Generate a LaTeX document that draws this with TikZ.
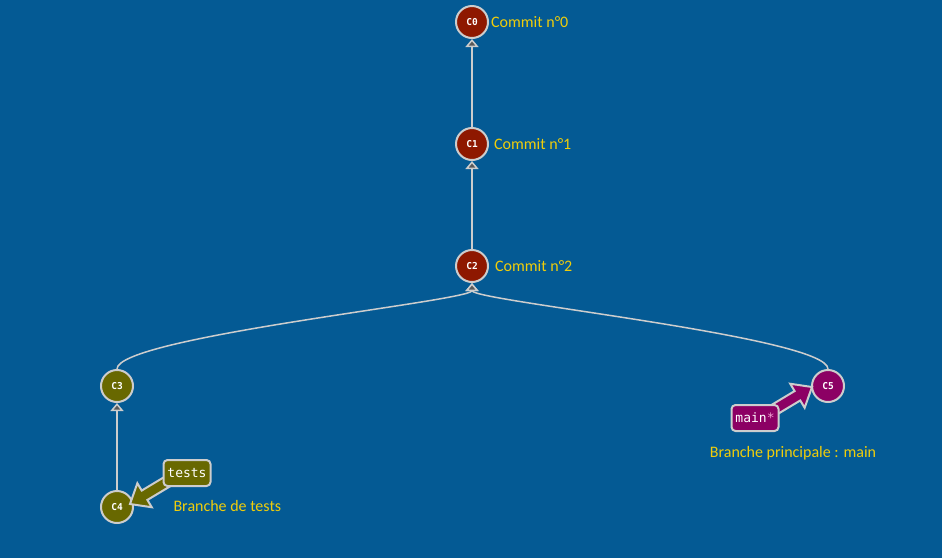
\documentclass[tikz,border=0pt]{standalone}
\usepackage{fontspec}
\setmainfont{Carlito}
\setmonofont{DejaVu Sans Mono}
\usetikzlibrary{arrows.meta}

\definecolor{gitbg}{RGB}{4,90,148}
\definecolor{edgegray}{RGB}{205,205,205}
\definecolor{labelyellow}{RGB}{240,205,10}
\definecolor{mainred}{RGB}{142,24,0}
\definecolor{testolive}{RGB}{104,104,0}
\definecolor{headmagenta}{RGB}{140,0,100}
\definecolor{starpink}{RGB}{240,160,210}

\begin{document}
\begin{tikzpicture}[
		x=1pt, y=-1pt,
		commit/.style={circle, draw=edgegray, line width=2pt, minimum size=32pt, inner sep=0pt, text=white, font=\ttfamily\bfseries\fontsize{9.5}{10}\selectfont},
		commit text/.style={anchor=west, text=labelyellow, inner sep=2pt, font=\fontsize{16}{18}\selectfont},
		branch text/.style={text=labelyellow, font=\fontsize{16}{18}\selectfont},
		branch tag/.style={draw=edgegray, line width=2pt, rounded corners=4pt, text=white, font=\ttfamily\fontsize{13}{15}\selectfont, minimum width=47pt, minimum height=26pt, inner sep=2pt},
		branch arrow/.style={draw=edgegray, line width=2pt, line join=miter},
		parent link/.style={draw=edgegray, line width=1.5pt, -{Triangle[fill=black!65, length=8pt, width=13pt]}}
		]
		
		% Background
		\fill[gitbg] (0,0) rectangle (942,558);
		
		% =========================================================
		% Commits
		% =========================================================
		\node[commit, fill=mainred] (c0) at (472,22) {C0};
		\node[commit, fill=mainred] (c1) at (472,144) {C1};
		\node[commit, fill=mainred] (c2) at (472,266) {C2};
		\node[commit, fill=testolive] (c3) at (117,386) {C3};
		\node[commit, fill=testolive] (c4) at (117,507) {C4};
		\node[commit, fill=headmagenta] (c5) at (828,386) {C5};
		
		% Parent links
		\draw[parent link] (c1) -- (c0);
		\draw[parent link] (c2) -- (c1);
		\draw[parent link] (c4) -- (c3);
		\draw[parent link] (c3.north) .. controls +(0,-32) and +(0,18) .. (c2.south);
		\draw[parent link] (c5.north) .. controls +(0,-32) and +(0,18) .. (c2.south);
		
		% Commit messages
		\node[commit text] (c0 label) at (c0.east) {Commit n°0};
		\node[commit text, xshift=3pt] (c1 label) at (c1.east) {Commit n°1};
		\node[commit text, xshift=4pt] (c2 label) at (c2.east) {Commit n°2};
		
		% =========================================================
		% Branches
		% =========================================================
		% tests -> C4
		\begin{scope}[shift={([shift={(13,-3)}]c4.center)}, rotate=211]
			\draw[branch arrow, fill=testolive] (0,0) -- (-17,14) -- (-17,5.5) -- (-62,5.5) -- (-62,-5.5) -- (-17,-5.5) -- (-17,-14) -- cycle;
		\end{scope}
		\node[branch tag, fill=testolive] (tests tag) at (187,473) {tests};
		\node[branch text, anchor=west] (tests label) at (170,506) {Branche de tests};
		
		% main -> C5
		\begin{scope}[shift={([shift={(-16,1)}]c5.center)}, rotate=31]
			\draw[branch arrow, fill=headmagenta] (0,0) -- (-17,14) -- (-17,5.5) -- (-62,5.5) -- (-62,-5.5) -- (-17,-5.5) -- (-17,-14) -- cycle;
		\end{scope}
		\node[branch tag, fill=headmagenta] (main tag) at (755,418) {main\textcolor{starpink}{*}};
		\node[branch text] (main label) at (793,453) {Branche principale : main};
		
	\end{tikzpicture}
\end{document}
